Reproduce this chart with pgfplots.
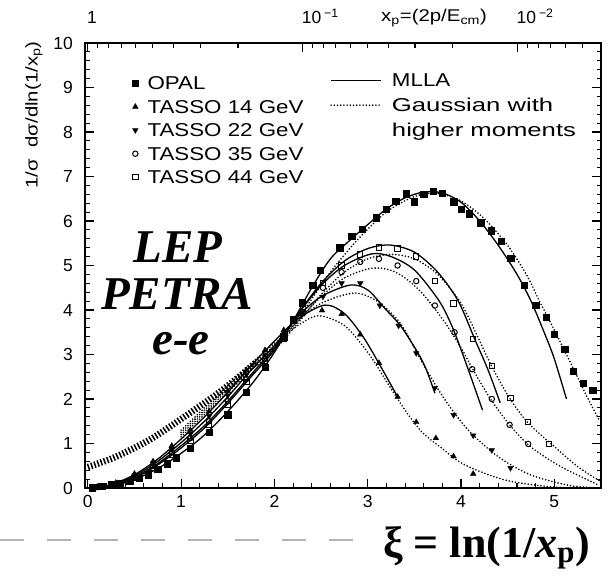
\documentclass[border=0pt]{standalone}
\usepackage{pgfplots}
\pgfplotsset{compat=1.18}
\usepackage{fontspec}
\setmainfont{Liberation Serif}
\newfontfamily\tickfam{Liberation Sans}
\newfontfamily\legfam[FakeStretch=1.2]{Liberation Sans}
\newfontfamily\legwidefam[FakeStretch=1.38]{Liberation Sans}
\newcommand\tickfont{\tickfam\fontsize{17.5bp}{20bp}\selectfont}
\newcommand\legfont{\legfam\fontsize{18.6bp}{22bp}\selectfont}
\newcommand\legwide{\legwidefam\fontsize{18.6bp}{22bp}\selectfont}
\newcommand\labfont{\legfam\fontsize{17bp}{20bp}\selectfont}
\pgfplotsset{
  mlla/.style={black, line width=1.3bp, smooth, no markers, forget plot},
  gaus/.style={black, line width=1.8bp, line cap=round, dash pattern=on 0bp off 3.2bp, smooth, no markers, forget plot},
  hatch/.style={black, line width=6.5bp, dash pattern=on 1.5bp off 1.9bp, smooth, no markers, forget plot},
}
\begin{document}
\begin{tikzpicture}
\useasboundingbox (0,0) rectangle (612bp,579bp);
\begin{axis}[
  scale only axis, width=516bp, height=445bp,
  at={(85bp,91bp)}, anchor=south west,
  xmin=-0.03, xmax=5.5, ymin=0, ymax=10,
  xtick={0,1,2,3,4,5}, ytick={0,1,...,10},
  minor x tick num=4, minor y tick num=4,
  xtick pos=lower, ytick pos=both,
  tick align=inside, major tick length=9bp, minor tick length=4.5bp,
  tick style={black, line width=1.1bp},
  axis line style={line width=1.5bp},
  ticklabel style={font=\tickfont},
  /pgf/number format/assume math mode=true,
  xticklabel style={anchor=base, inner sep=0pt, yshift=-20bp},
  yticklabel style={anchor=east, inner sep=0pt, xshift=-12bp},
  legend style={at={(rel axis cs:0.091,0.9247)}, anchor=north west, draw=none, fill=none,
    inner sep=0pt, font=\legfont, row sep=10.5bp, column sep=9bp,
    nodes={inner sep=0pt, text height=13bp, text depth=0bp}},
  legend cell align=left,
  legend image code/.code={\draw[#1] plot coordinates {(0bp,0bp)};},
]
% ---- data points
\addplot[only marks, mark=square*, mark size=3.2bp, black] coordinates {
(0.05,0.01)(0.15,0.04)(0.25,0.07)(0.35,0.1)(0.45,0.15)(0.55,0.22)(0.65,0.3)(0.75,0.42)(0.85,0.55)(0.95,0.68)
(1.1,0.9)(1.3,1.25)(1.5,1.65)(1.7,2.15)(1.9,2.72)(2.1,3.4)(2.2,3.78)(2.3,4.16)(2.41,4.56)(2.49,4.9)
(2.7,5.4)(2.83,5.66)(2.94,5.82)(3.09,6.07)(3.2,6.27)(3.3,6.45)(3.41,6.61)(3.5,6.43)(3.6,6.6)(3.7,6.67)
(3.8,6.63)(3.92,6.43)(4.0,6.27)(4.09,6.16)(4.21,5.96)(4.32,5.78)(4.43,5.55)(4.53,5.17)(4.68,4.56)(4.8,4.11)
(4.91,3.84)(5.0,3.46)(5.11,3.12)(5.2,2.63)(5.31,2.36)(5.41,2.2)};
\addlegendentry{OPAL}
\addplot[only marks, mark=triangle*, mark size=3.2bp, black] coordinates {
(0.1,0.03)(0.3,0.12)(0.5,0.32)(0.7,0.6)(0.9,0.95)(1.1,1.3)(1.3,1.72)(1.5,2.18)(1.7,2.65)(1.9,3.1)
(2.1,3.55)(2.3,3.9)(2.51,3.99)(2.72,3.91)(2.92,3.45)(3.12,2.81)(3.32,2.05)(3.52,1.48)(3.73,1.12)(3.92,0.71)(4.13,0.32)};
\addlegendentry{TASSO 14 GeV}
\addplot[only marks, mark=triangle*, mark options={rotate=180}, mark size=3.2bp, black] coordinates {
(0.1,0.03)(0.3,0.1)(0.5,0.28)(0.7,0.55)(0.9,0.88)(1.1,1.22)(1.3,1.62)(1.5,2.08)(1.7,2.55)(1.9,3.0)
(2.1,3.45)(2.3,3.95)(2.52,4.3)(2.72,4.6)(2.92,4.6)(3.13,4.1)(3.33,3.65)(3.52,3.03)(3.72,2.25)(3.92,1.64)
(4.13,1.18)(4.33,0.85)(4.53,0.45)};
\addlegendentry{TASSO 22 GeV}
\addplot[only marks, mark=o, mark size=2.7bp, black, line width=1bp] coordinates {
(0.1,0.02)(0.3,0.09)(0.5,0.25)(0.7,0.5)(0.9,0.8)(1.1,1.12)(1.3,1.5)(1.5,1.95)(1.7,2.45)(1.9,2.9)
(2.1,3.4)(2.3,3.95)(2.52,4.5)(2.72,4.85)(2.92,5.08)(3.12,5.15)(3.32,5.0)(3.52,4.65)(3.72,4.1)(3.93,3.5)
(4.12,2.67)(4.33,2.0)(4.52,1.42)(4.72,0.99)};
\addlegendentry{TASSO 35 GeV}
\addplot[only marks, mark=square, mark size=2.7bp, black, line width=1bp] coordinates {
(0.1,0.02)(0.3,0.08)(0.5,0.23)(0.7,0.46)(0.9,0.75)(1.1,1.05)(1.3,1.42)(1.5,1.88)(1.7,2.38)(1.9,2.85)
(2.1,3.35)(2.3,3.95)(2.52,4.6)(2.72,5.0)(2.92,5.25)(3.12,5.4)(3.32,5.38)(3.52,5.2)(3.72,4.65)(3.92,4.15)
(4.13,3.35)(4.33,2.74)(4.53,2.02)(4.72,1.48)(4.94,0.99)};
\addlegendentry{TASSO 44 GeV}
% ---- MLLA curves
\addplot[mlla] coordinates {(0,0)(0.2,0.03)(0.4,0.12)(0.6,0.28)(0.8,0.5)(1.0,0.78)(1.2,1.1)(1.4,1.5)(1.6,1.95)(1.8,2.45)(2.0,3.05)(2.2,3.75)(2.4,4.5)(2.6,5.15)(2.8,5.55)(3.0,5.92)(3.2,6.27)(3.4,6.52)(3.6,6.65)(3.8,6.63)(4.0,6.42)(4.2,6.0)(4.4,5.45)(4.6,4.8)(4.75,4.2)(4.9,3.45)(5.0,2.9)(5.13,2.0)};
\addplot[mlla] coordinates {(0,0)(0.25,0.08)(0.5,0.3)(0.75,0.65)(1.0,1.1)(1.25,1.6)(1.5,2.15)(1.75,2.75)(2.0,3.3)(2.25,3.8)(2.54,4.11)(2.75,3.92)(2.95,3.4)(3.12,2.8)(3.32,2.05)};
\addplot[mlla] coordinates {(0,0)(0.25,0.07)(0.5,0.27)(0.75,0.6)(1.0,1.02)(1.25,1.5)(1.5,2.05)(1.75,2.65)(2.0,3.2)(2.25,3.85)(2.5,4.3)(2.81,4.56)(3.0,4.45)(3.19,4.02)(3.35,3.65)(3.52,3.1)(3.62,2.7)(3.72,2.13)};
\addplot[mlla] coordinates {(0,0)(0.25,0.06)(0.5,0.24)(0.75,0.55)(1.0,0.95)(1.25,1.4)(1.5,1.95)(1.75,2.55)(2.0,3.15)(2.25,3.9)(2.5,4.55)(2.75,5.0)(3.04,5.26)(3.25,5.2)(3.5,4.9)(3.76,4.22)(3.9,3.65)(4.04,2.88)(4.23,1.75)};
\addplot[mlla] coordinates {(0,0)(0.25,0.05)(0.5,0.22)(0.75,0.52)(1.0,0.9)(1.25,1.35)(1.5,1.9)(1.75,2.5)(2.0,3.1)(2.25,3.9)(2.5,4.6)(2.75,5.1)(3.0,5.38)(3.24,5.46)(3.5,5.3)(3.75,4.85)(3.97,4.2)(4.15,3.33)(4.29,2.65)(4.42,1.91)};
% ---- Gaussian with higher moments
\addplot[hatch] coordinates {(0,0.47)(0.3,0.7)(0.66,1.08)(1.0,1.55)(1.37,2.09)(1.62,2.5)(1.8,2.82)};
\addplot[gaus] coordinates {(1.62,2.5)(2.0,3.2)(2.3,3.95)(2.6,4.85)(2.9,5.6)(3.2,6.2)(3.5,6.55)(3.75,6.62)(4.0,6.45)(4.25,6.05)(4.5,5.45)(4.7,4.8)(4.84,4.2)(5.0,3.55)(5.2,2.7)(5.35,2.05)(5.48,1.53)};
\addplot[gaus] coordinates {(1.0,1.3)(1.25,1.8)(1.5,2.3)(1.75,2.8)(2.0,3.25)(2.25,3.65)(2.47,3.87)(2.75,3.65)(3.0,3.05)(3.2,2.4)(3.4,1.75)(3.58,1.26)(3.79,0.9)(4.04,0.52)(4.47,0.18)(4.94,0.03)(5.3,0.0)};
\addplot[gaus] coordinates {(1.0,1.25)(1.25,1.75)(1.5,2.25)(1.75,2.75)(2.0,3.2)(2.25,3.75)(2.5,4.15)(2.85,4.38)(3.1,4.2)(3.35,3.7)(3.55,2.95)(3.76,2.2)(3.93,1.68)(4.11,1.23)(4.4,0.7)(4.75,0.29)(5.18,0.05)(5.5,0.0)};
\addplot[gaus] coordinates {(1.0,1.2)(1.25,1.7)(1.5,2.2)(1.75,2.7)(2.0,3.15)(2.25,3.75)(2.5,4.3)(2.75,4.72)(3.05,4.94)(3.3,4.85)(3.55,4.45)(3.8,3.8)(4.0,3.15)(4.11,2.73)(4.3,2.05)(4.52,1.42)(4.75,0.92)(5.07,0.48)(5.47,0.07)};
\addplot[gaus] coordinates {(1.0,1.15)(1.25,1.65)(1.5,2.15)(1.75,2.65)(2.0,3.1)(2.25,3.7)(2.5,4.35)(2.75,4.85)(3.0,5.15)(3.25,5.25)(3.5,5.15)(3.75,4.8)(4.0,4.15)(4.2,3.3)(4.33,2.73)(4.52,2.02)(4.72,1.46)(5.0,0.93)(5.25,0.48)(5.5,0.14)};
\end{axis}
% ---- top x_p axis
\begin{axis}[
  scale only axis, width=516bp, height=445bp,
  at={(85bp,91bp)}, anchor=south west,
  xmin=-0.03, xmax=5.5, ymin=0, ymax=10,
  axis x line*=top, axis y line=none,
  xtick={0,2.302585,4.60517},
  xticklabels={1,{10\,\textsuperscript{−1}},{10\,\textsuperscript{−2}}},
  minor xtick={0.1054,0.2231,0.3567,0.5108,0.6931,0.9163,1.2040,1.6094,
    2.4079,2.5257,2.6593,2.8134,2.9957,3.2189,3.5066,3.9120,
    4.7106,4.8283,4.9619,5.1160,5.2983},
  tick align=inside, major tick length=9bp, minor tick length=5bp,
  tick style={black, line width=1.1bp},
  axis line style={line width=1.5bp},
  xticklabel style={font=\tickfont, anchor=base west, inner sep=0pt, yshift=19bp, xshift=-1bp},
  legend style={at={(rel axis cs:0.4748,0.9315)}, anchor=north west, draw=none, fill=none,
    inner sep=0pt, font=\legfont, row sep=12bp, column sep=10bp,
    nodes={inner sep=0pt, text height=13bp, text depth=0bp}},
  legend cell align=left,
  legend image code/.code={\draw[#1] (0bp,0bp) -- (50bp,0bp);},
]
\addlegendimage{black, line width=1.3bp}
\addlegendentry{MLLA}
\addlegendimage{black, line width=1.8bp, line cap=round, dash pattern=on 0bp off 3.2bp}
\addlegendentry{\legwide Gaussian with}
\addlegendimage{empty legend}
\addlegendentry{\legwide higher moments}
\end{axis}
% ---- labels
\node[rotate=90, font=\labfont, inner sep=0pt] at (34bp,464bp) {1/σ\ \ dσ/dln(1/x\textsubscript{p})};
\node[anchor=base west, font=\labfont, inner sep=0pt] at (381bp,557bp) {x\textsubscript{p}=(2p/E\textsubscript{cm})};
\draw[black!30, line width=2bp, dash pattern=on 24bp off 23bp] (0bp,39bp) -- (358bp,39bp);
\node[anchor=base west, inner sep=0pt, font=\fontsize{44bp}{48bp}\selectfont\bfseries] at (383bp,22bp) {ξ = ln(1/\textit{x}\textsubscript{p})};
\node[anchor=base, inner sep=0pt, font=\fontsize{47bp}{50bp}\selectfont\bfseries\itshape] at (178bp,316bp) {LEP};
\node[anchor=base, inner sep=0pt, font=\fontsize{47bp}{50bp}\selectfont\bfseries\itshape] at (177bp,269bp) {PETRA};
\node[anchor=base, inner sep=0pt, font=\fontsize{47bp}{50bp}\selectfont\bfseries\itshape] at (181bp,224bp) {e-e};
\end{tikzpicture}
\end{document}
